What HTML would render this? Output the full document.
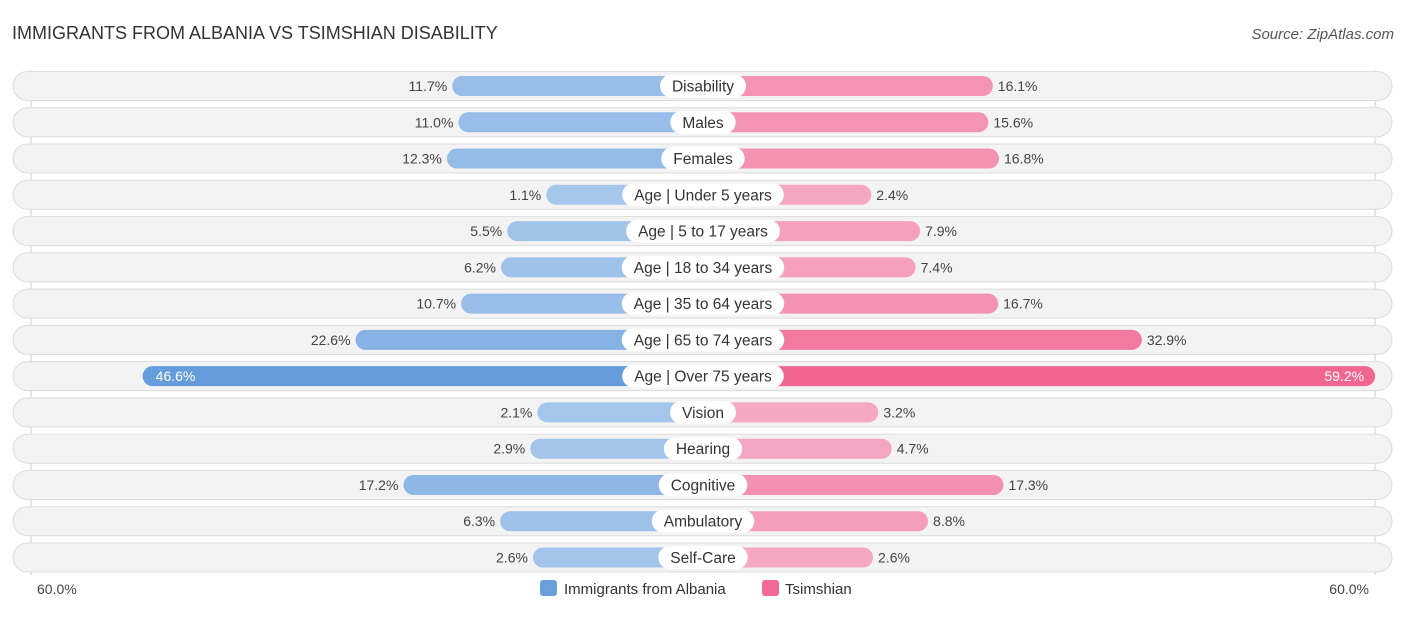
<!DOCTYPE html>
<html><head><meta charset="utf-8"><style>
body{margin:0;background:#fff;font-family:"Liberation Sans",sans-serif;}
svg text{font-family:"Liberation Sans",sans-serif;}
</style></head><body>
<svg id="c" width="1406" height="612">
<text x="12" y="39" font-size="18" fill="#333">IMMIGRANTS FROM ALBANIA VS TSIMSHIAN DISABILITY</text>
<text x="1394" y="39" font-size="15" fill="#555" font-style="italic" text-anchor="end">Source: ZipAtlas.com</text>
<line x1="31" y1="70" x2="31" y2="575" stroke="#ccc"/>
<line x1="1375" y1="70" x2="1375" y2="575" stroke="#ccc"/>
<g id="rows"></g>
<text x="37" y="594" font-size="14" fill="#444">60.0%</text>
<text x="1369" y="594" font-size="14" fill="#444" text-anchor="end">60.0%</text>
<rect x="540" y="580" width="17" height="16" rx="3" fill="#6a9fdc"/>
<text x="564" y="594" font-size="15" fill="#333">Immigrants from Albania</text>
<rect x="762" y="580" width="17" height="16" rx="3" fill="#f06a94"/>
<text x="785" y="594" font-size="15" fill="#333">Tsimshian</text>
</svg>
<script>
const categories=["Disability","Males","Females","Age | Under 5 years","Age | 5 to 17 years","Age | 18 to 34 years","Age | 35 to 64 years","Age | 65 to 74 years","Age | Over 75 years","Vision","Hearing","Cognitive","Ambulatory","Self-Care"];
const albania=[11.7,11.0,12.3,1.1,5.5,6.2,10.7,22.6,46.6,2.1,2.9,17.2,6.3,2.6];
const tsimshian=[16.1,15.6,16.8,2.4,7.9,7.4,16.7,32.9,59.2,3.2,4.7,17.3,8.8,2.6];
const NS="http://www.w3.org/2000/svg";
const cx=703,off=147,k=8.87,y0=86,step=36.27;
function len(v){return off+k*v;}
function rowY(i){return y0+i*step;}
function mix(a,b,t){return "rgb("+a.map((x,j)=>Math.round(x+(b[j]-x)*t)).join(",")+")";}
function mk(tag,attrs,parent){const e=document.createElementNS(NS,tag);for(const a in attrs)e.setAttribute(a,attrs[a]);parent.appendChild(e);return e;}
const g=document.getElementById("rows");
const maxV=Math.max(...albania,...tsimshian);
categories.forEach((c,i)=>{
  const y=rowY(i);
  const bg=mk("rect",{x:13,y:y-14.5,width:1379,height:29,rx:14.5,fill:"#f3f3f3",stroke:"#dcdcdc"},g);
  
  
  const a=albania[i],t=tsimshian[i];
  const la=len(a),lt=len(t);
  const ta=Math.min(1,a/maxV*1.3),tt=Math.min(1,t/maxV*1.3);
  const ba=mk("rect",{x:cx-la,y:y-10,width:la,height:20,rx:10,fill:mix([168,200,236],[100,156,220],ta)},g);
  
  
  const bt=mk("rect",{x:cx,y:y-10,width:lt,height:20,rx:10,fill:mix([246,172,198],[240,102,145],tt)},g);
  
  
  const big=a>40;
  const va=mk("text",{x:big?cx-la+13:cx-la-5,y:y+5,"font-size":14,fill:big?"#fff":"#444","text-anchor":big?"start":"end"},g);
  va.textContent=a.toFixed(1)+"%";
  
  
  const bigt=t>40;
  const vt=mk("text",{x:bigt?cx+lt-11:cx+lt+5,y:y+5,"font-size":14,fill:bigt?"#fff":"#444","text-anchor":bigt?"end":"start"},g);
  vt.textContent=t.toFixed(1)+"%";
  
  
  const lbl=mk("text",{x:cx,y:y+5.5,"font-size":15.5,fill:"#333","text-anchor":"middle"},g);
  lbl.textContent=c;
  
  
  const w=lbl.getComputedTextLength()+24;
  const pill=document.createElementNS(NS,"rect");
  pill.setAttribute("x",cx-w/2);pill.setAttribute("y",y-11.5);pill.setAttribute("width",w);pill.setAttribute("height",23);pill.setAttribute("rx",11.5);pill.setAttribute("fill","#fff");
  
  
  g.insertBefore(pill,lbl);
});
</script>
</body></html>
